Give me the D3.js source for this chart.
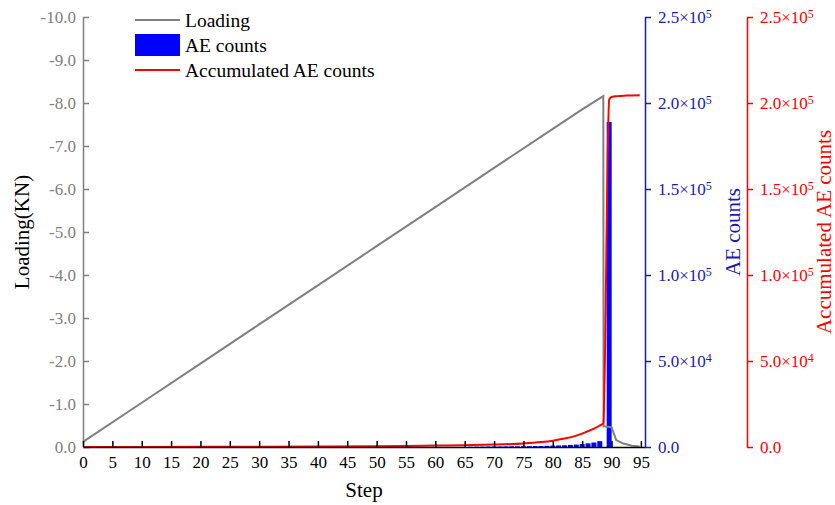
<!DOCTYPE html>
<html>
<head>
<meta charset="utf-8">
<script src="https://cdn.jsdelivr.net/npm/d3@7"></script>
<style>
    body { margin: 0; background: #fff; }
    svg text { font-family: "Liberation Serif", "Times New Roman", serif; }
</style>
</head>
<body>
<div id="chart"></div>
<script>
// loading curve (kN)
const loadingSteps  = [0, 10, 20, 30, 40, 50, 60, 70, 80, 85, 88.6, 88.65, 90.0, 90.8, 92.0, 93.5, 94.8];
const loadingValues = [-0.12, -1.03, -1.94, -2.85, -3.76, -4.67, -5.58, -6.49, -7.40, -7.85, -8.16, -0.48, -0.46, -0.16, -0.08, -0.03, -0.01];

// AE counts per step (bars)
const aeSteps  = [66, 67, 68, 69, 70, 71, 72, 73, 74, 75, 76, 77, 78, 79, 80, 81, 82, 83, 84, 85, 86, 87, 88, 89.6];
const aeCounts = [150, 200, 200, 250, 300, 300, 350, 400, 400, 450, 500, 550, 600, 700, 800, 900, 1000, 1200, 1400, 1700, 2100, 2600, 3400, 189000];

// accumulated AE counts
const accSteps  = [0, 10, 20, 30, 40, 50, 55, 60, 65, 70, 75, 78, 80, 82, 84, 86, 87, 88, 88.6, 89.6, 90, 91, 92.5, 94.8];
const accCounts = [0, 40, 100, 200, 330, 500, 620, 800, 1050, 1400, 2100, 2900, 3700, 4900, 6600, 9200, 10700, 12500, 13800, 202000, 203500, 204000, 204300, 204500];

const stepTicks    = d3.range(0, 96, 5);
const loadingTicks = [0, -1, -2, -3, -4, -5, -6, -7, -8, -9, -10];
const countTicks   = [0, 50000, 100000, 150000, 200000, 250000];

const legendNames = ["Loading", "AE counts", "Accumulated AE counts"];

const colGray = "#808080", colBlue = "#0000ff", colBlueAxis = "#1a1ab4", colRed = "#ff0000";

const W = 835, H = 505;
const m = {left: 83, right: 645, top: 17, bottom: 447};
const redAxisX = 747;

const svg = d3.select("#chart").append("svg")
    .attr("width", W).attr("height", H);

const x = d3.scaleLinear().domain([0, 95.7]).range([m.left, m.right]);
const yLoad = d3.scaleLinear().domain([0, -10]).range([m.bottom, m.top]);
const yAe = d3.scaleLinear().domain([0, 250000]).range([m.bottom, m.top]);
const yAcc = d3.scaleLinear().domain([0, 250000]).range([m.bottom, m.top]);

// bars
const barW = x(0.85) - x(0);
svg.append("g").selectAll("rect")
    .data(aeSteps.map((s, i) => ({s: s, v: aeCounts[i]})))
    .join("rect")
    .attr("x", d => x(d.s) - barW / 2)
    .attr("width", barW)
    .attr("y", d => yAe(d.v))
    .attr("height", d => m.bottom - yAe(d.v))
    .attr("fill", colBlue);

// loading line
const loadLine = d3.line().x(d => x(d[0])).y(d => yLoad(d[1]));
svg.append("path")
    .datum(loadingSteps.map((s, i) => [s, loadingValues[i]]))
    .attr("d", loadLine)
    .attr("fill", "none").attr("stroke", colGray).attr("stroke-width", 2);

// accumulated line
const accLine = d3.line().x(d => x(d[0])).y(d => yAcc(d[1])).curve(d3.curveMonotoneX);
svg.append("path")
    .datum(accSteps.map((s, i) => [s, accCounts[i]]))
    .attr("d", accLine)
    .attr("fill", "none").attr("stroke", colRed).attr("stroke-width", 2);

// count label with superscript exponent
function sciLabel(sel) {
    sel.each(function(v) {
        const t = d3.select(this).text("");
        if (v === 0) { t.text("0.0"); return; }
        const e = Math.floor(Math.log10(v));
        t.append("tspan").text((v / Math.pow(10, e)).toFixed(1) + "×10");
        t.append("tspan").attr("dy", "-0.45em").attr("font-size", "12px").text(e);
    });
}

function styleAxis(g, color) {
    g.select(".domain").attr("stroke", color).attr("stroke-width", 1.5);
    g.selectAll(".tick line").attr("stroke", color).attr("stroke-width", 1.5);
    g.selectAll(".tick text").attr("fill", color).attr("font-size", "17px");
}

// left axis
const gLeft = svg.append("g").attr("transform", `translate(${m.left},0)`)
    .call(d3.axisLeft(yLoad).tickValues(loadingTicks).tickFormat(v => v.toFixed(1))
        .tickSizeInner(-6).tickSizeOuter(0).tickPadding(7));
styleAxis(gLeft, colGray);

// bottom axis
const gBottom = svg.append("g").attr("transform", `translate(0,${m.bottom})`)
    .call(d3.axisBottom(x).tickValues(stepTicks).tickFormat(d3.format("d"))
        .tickSizeInner(-6).tickSizeOuter(0).tickPadding(9));
styleAxis(gBottom, "#000");

// AE counts axis
const gAe = svg.append("g").attr("transform", `translate(${m.right},0)`)
    .call(d3.axisRight(yAe).tickValues(countTicks).tickSizeInner(6).tickSizeOuter(0).tickPadding(7));
styleAxis(gAe, colBlueAxis);
gAe.selectAll(".tick text").call(sciLabel);

// accumulated axis
const gAcc = svg.append("g").attr("transform", `translate(${redAxisX},0)`)
    .call(d3.axisRight(yAcc).tickValues(countTicks).tickSizeInner(6).tickSizeOuter(0).tickPadding(7));
styleAxis(gAcc, colRed);
gAcc.selectAll(".tick text").call(sciLabel);

// axis titles
const midY = (m.top + m.bottom) / 2;
svg.append("text").attr("transform", `translate(29,${midY}) rotate(-90)`)
    .attr("text-anchor", "middle").attr("font-size", "21px").text("Loading(KN)");
svg.append("text").attr("x", (m.left + m.right) / 2).attr("y", 497)
    .attr("text-anchor", "middle").attr("font-size", "21px").text("Step");
svg.append("text").attr("transform", `translate(740,${midY}) rotate(-90)`)
    .attr("text-anchor", "middle").attr("font-size", "21px").attr("fill", colBlueAxis).text("AE counts");
svg.append("text").attr("transform", `translate(831,${midY}) rotate(-90)`)
    .attr("text-anchor", "middle").attr("font-size", "21px").attr("fill", colRed).text("Accumulated AE counts");

// legend
const lg = svg.append("g").attr("transform", "translate(135,0)");
const rows = lg.selectAll("g").data(legendNames).join("g")
    .attr("transform", (d, i) => `translate(0,${20 + i * 25})`);
rows.filter((d, i) => i !== 1).append("line")
    .attr("x1", 0).attr("x2", 45)
    .attr("stroke", (d, i) => i === 0 ? colGray : colRed).attr("stroke-width", 2);
rows.filter((d, i) => i === 1).append("rect")
    .attr("x", 0).attr("y", -11).attr("width", 45).attr("height", 22).attr("fill", colBlue);
rows.append("text").attr("x", 50).attr("dy", "0.35em").attr("font-size", "19.5px").text(d => d);
</script>
</body>
</html>
